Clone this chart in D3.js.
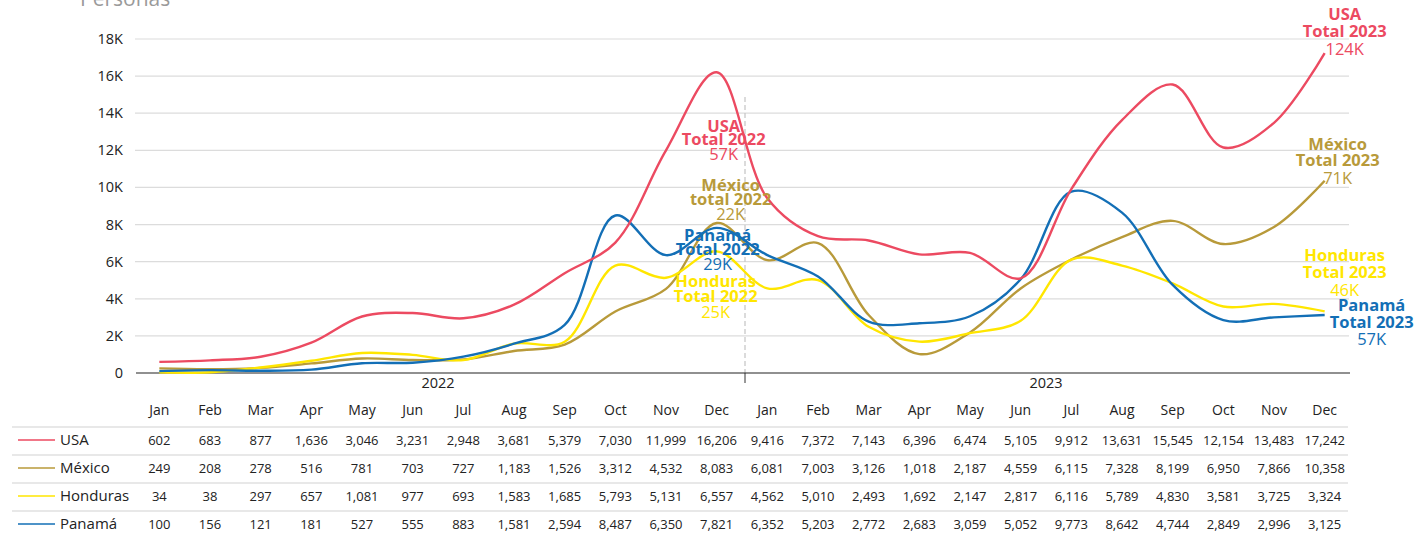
<!DOCTYPE html>
<html>
<head>
<meta charset="utf-8">
<script src="https://cdn.jsdelivr.net/npm/d3@7"></script>
<style>
body { margin:0; background:#fff; }
svg { font-family: "Open Sans", Lato, sans-serif; }
</style>
</head>
<body>
<div id="chart-container"></div>
<script>
var months = ["Jan","Feb","Mar","Apr","May","Jun","Jul","Aug","Sep","Oct","Nov","Dec"]
var years = ["2022","2023"]
var yTicks = [0,2000,4000,6000,8000,10000,12000,14000,16000,18000]

var usa = [602,683,877,1636,3046,3231,2948,3681,5379,7030,11999,16206,
	9416,7372,7143,6396,6474,5105,9912,13631,15545,12154,13483,17242]
var mexico = [249,208,278,516,781,703,727,1183,1526,3312,4532,8083,
	6081,7003,3126,1018,2187,4559,6115,7328,8199,6950,7866,10358]
var honduras = [34,38,297,657,1081,977,693,1583,1685,5793,5131,6557,
	4562,5010,2493,1692,2147,2817,6116,5789,4830,3581,3725,3324]
var panama = [100,156,121,181,527,555,883,1581,2594,8487,6350,7821,
	6352,5203,2772,2683,3059,5052,9773,8642,4744,2849,2996,3125]

var seriesNames = ["USA","México","Honduras","Panamá"]
var seriesValues = [usa, mexico, honduras, panama]
var seriesColors = ["#ec4a61","#b89a3a","#ffe600","#136fb6"]
var drawOrder = [1,2,3,0]

var chart = {width:1418, height:533, left:134, right:1350, top:39, zero:373}

var cats = d3.range(24)
var x = d3.scaleBand().domain(cats).range([chart.left, chart.right])
var cx = function(i){ return x(i) + x.bandwidth()/2 }
var y = d3.scaleLinear().domain([0,18000]).range([chart.zero, chart.top])

var svg = d3.select("#chart-container")
	.append("svg")
	.attr("width", chart.width)
	.attr("height", chart.height)

svg.append("text")
	.attr("x", 80).attr("y", 6)
	.attr("fill", "#9a9a9a")
	.attr("font-size", 21)
	.text("Personas")

// grid + y labels
svg.append("g")
	.selectAll("line")
	.data(yTicks.filter(function(d){ return d > 0 }))
	.enter()
	.append("line")
	.attr("x1", chart.left + 1).attr("x2", chart.right - 1)
	.attr("y1", function(d){ return y(d) }).attr("y2", function(d){ return y(d) })
	.attr("stroke", "#dcdcdc").attr("stroke-width", 1.2)

svg.append("g")
	.selectAll("text")
	.data(yTicks)
	.enter()
	.append("text")
	.attr("x", 123)
	.attr("y", function(d){ return y(d) + 5 })
	.attr("text-anchor", "end")
	.attr("font-size", 14.5)
	.attr("fill", "#222")
	.text(function(d){ return d === 0 ? "0" : (d/1000) + "K" })

// year divider
var midX = x(12) + 3
svg.append("line")
	.attr("x1", midX).attr("x2", midX)
	.attr("y1", 97).attr("y2", chart.zero)
	.attr("stroke", "#c8c8c8").attr("stroke-width", 1.3)
	.attr("stroke-dasharray", "5,3")
svg.append("line")
	.attr("x1", midX).attr("x2", midX)
	.attr("y1", chart.zero).attr("y2", chart.zero + 10)
	.attr("stroke", "#333").attr("stroke-width", 1)

svg.append("line")
	.attr("x1", chart.left + 2).attr("x2", chart.right)
	.attr("y1", chart.zero).attr("y2", chart.zero)
	.attr("stroke", "#222").attr("stroke-width", 1.2)

svg.append("g")
	.selectAll("text")
	.data(years)
	.enter()
	.append("text")
	.attr("x", function(d,i){ return (x(i*12) + x(i*12+11) + x.bandwidth())/2 })
	.attr("y", 388)
	.attr("text-anchor", "middle")
	.attr("font-size", 14.5)
	.attr("fill", "#222")
	.text(function(d){ return d })

// lines
var line = d3.line()
	.x(function(d,i){ return cx(i) })
	.y(function(d){ return y(d) })
	.curve(d3.curveCatmullRom.alpha(0.5))

svg.append("g")
	.selectAll("path")
	.data(drawOrder)
	.enter()
	.append("path")
	.attr("d", function(k){ return line(seriesValues[k]) })
	.attr("fill", "none")
	.attr("stroke", function(k){ return seriesColors[k] })
	.attr("stroke-width", 2.4)

// annotation anchors: series, year, month index, x nudge, value at first baseline, line gap
var notes = [
	{s:0, yr:0, at:11, dx:7, v:12990, gap:13.5, word:"Total"},
	{s:1, yr:0, at:11, dx:14, v:9810, gap:14, word:"total"},
	{s:3, yr:0, at:11, dx:1, v:7110, gap:14, word:"Total"},
	{s:2, yr:0, at:11, dx:-1, v:4640, gap:15, word:"Total"},
	{s:0, yr:1, at:23, dx:20, v:19020, gap:17, word:"Total"},
	{s:1, yr:1, at:23, dx:13, v:12020, gap:16.5, word:"Total"},
	{s:2, yr:1, at:23, dx:20, v:6040, gap:17, word:"Total"},
	{s:3, yr:1, at:23, dx:47, v:3340, gap:16.5, word:"Total"}
]
var fmtK = function(v){ return Math.round(v/1000) + "K" }

var ng = svg.append("g")
	.selectAll("g")
	.data(notes)
	.enter()
	.append("g")
	.attr("transform", function(d){ return "translate(" + (cx(d.at) + d.dx) + "," + y(d.v) + ")" })
	.attr("text-anchor", "middle")
	.attr("fill", function(d){ return seriesColors[d.s] })
	.attr("font-size", 16.5)

ng.append("text").attr("y", 0).attr("font-weight", "bold")
	.text(function(d){ return seriesNames[d.s] })
ng.append("text").attr("y", function(d){ return d.gap }).attr("font-weight", "bold")
	.text(function(d){ return d.word + " " + years[d.yr] })
ng.append("text").attr("y", function(d){ return d.gap*2 + 1 })
	.text(function(d){ return fmtK(d3.sum(seriesValues[d.s].slice(d.yr*12, d.yr*12+12))) })

// data table
var rowY = [440, 468, 496, 524]
var fmt = d3.format(",")

svg.append("g")
	.selectAll("text")
	.data(cats)
	.enter()
	.append("text")
	.attr("x", function(d){ return cx(d) })
	.attr("y", 415)
	.attr("text-anchor", "middle")
	.attr("font-size", 14)
	.attr("fill", "#222")
	.text(function(d){ return months[d % 12] })

svg.append("g")
	.selectAll("line")
	.data(rowY)
	.enter()
	.append("line")
	.attr("x1", 12).attr("x2", chart.right - 2)
	.attr("y1", function(d){ return d - 13 }).attr("y2", function(d){ return d - 13 })
	.attr("stroke", "#e0e0e0").attr("stroke-width", 1.5)

var rows = svg.append("g")
	.selectAll("g")
	.data(seriesNames)
	.enter()
	.append("g")
	.attr("transform", function(d,i){ return "translate(0," + rowY[i] + ")" })

rows.append("line")
	.attr("x1", 18).attr("x2", 55).attr("y1", 0).attr("y2", 0)
	.attr("stroke", function(d,i){ return seriesColors[i] })
	.attr("stroke-width", 1.6)
rows.append("text")
	.attr("x", 60).attr("y", 5)
	.attr("font-size", 15)
	.attr("fill", "#222")
	.text(function(d){ return d })

rows.selectAll("text.val")
	.data(function(d,i){ return seriesValues[i] })
	.enter()
	.append("text")
	.attr("class", "val")
	.attr("x", function(d,i){ return cx(i) })
	.attr("y", 5)
	.attr("text-anchor", "middle")
	.attr("font-size", 13)
	.attr("fill", "#222")
	.text(function(d){ return fmt(d) })
</script>
</body>
</html>
